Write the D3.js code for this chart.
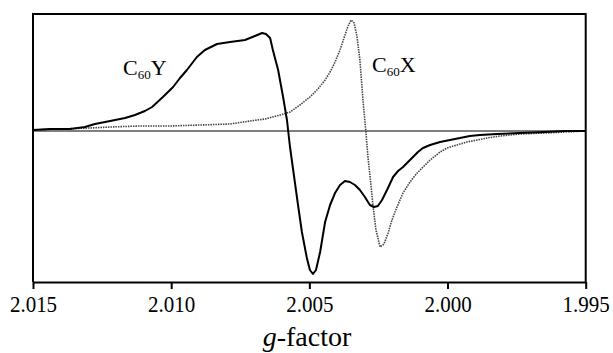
<!DOCTYPE html>
<html>
<head>
<meta charset="utf-8">
<script src="https://cdn.jsdelivr.net/npm/d3@7"></script>
<style>
  body { margin: 0; background: #fff; }
  svg text { font-family: "Liberation Serif", "Times New Roman", Times, serif; fill: #000; }
</style>
</head>
<body>
<svg id="chart" width="613" height="353"></svg>
<script>
// g-factor values and signal (arb. units)
var gY = [2.01500, 2.01439, 2.01366, 2.01312, 2.01276, 2.01221, 2.01167, 2.01131, 2.01095, 2.01069,
          2.01030, 2.00993, 2.00968, 2.00943, 2.00907, 2.00878, 2.00834, 2.00787, 2.00733, 2.00697,
          2.00671, 2.00657, 2.00642, 2.00632, 2.00613, 2.00595, 2.00581, 2.00570, 2.00556, 2.00541,
          2.00527, 2.00509, 2.00498, 2.00487, 2.00476, 2.00461, 2.00443, 2.00425, 2.00407, 2.00389,
          2.00371, 2.00353, 2.00335, 2.00317, 2.00299, 2.00281, 2.00266, 2.00252, 2.00237, 2.00219,
          2.00197, 2.00179, 2.00161, 2.00143, 2.00125, 2.00107, 2.00089, 2.00063, 2.00027, 1.99991,
          1.99955, 1.99919, 1.99883, 1.99821, 1.99738, 1.99647, 1.99575, 1.99500];
var sY = [1, 2, 2, 4, 7, 10, 13, 16, 20, 24,
          34, 44, 53, 61, 74, 81, 87, 89, 91, 95,
          98, 97, 93, 81, 61, 34, 11, -16, -44, -74,
          -101, -127, -139, -143, -139, -121, -91, -74, -62, -54,
          -50, -51, -54, -59, -66, -74, -76, -75, -69, -59,
          -46, -40, -36, -31, -26, -21, -17, -14, -11, -9,
          -7, -5, -4, -3, -2, -1, 0, 0];

var gX = [2.01500, 2.01402, 2.01294, 2.01221, 2.01113, 2.01004, 2.00896, 2.00787, 2.00715, 2.00660,
          2.00606, 2.00570, 2.00534, 2.00498, 2.00469, 2.00443, 2.00425, 2.00407, 2.00389, 2.00371,
          2.00360, 2.00349, 2.00338, 2.00328, 2.00317, 2.00306, 2.00295, 2.00288, 2.00277, 2.00270,
          2.00259, 2.00244, 2.00230, 2.00215, 2.00201, 2.00183, 2.00161, 2.00136, 2.00110, 2.00063,
          2.00027, 2.00002, 1.99966, 1.99930, 1.99893, 1.99857, 1.99810, 1.99738, 1.99647, 1.99575,
          1.99500];
var sX = [1, 2, 3, 4, 5, 5, 6, 7, 10, 12,
          16, 19, 26, 34, 42, 51, 59, 69, 81, 96,
          105, 111, 108, 95, 71, 31, -2, -26, -54, -74,
          -99, -116, -113, -102, -89, -76, -62, -51, -42, -29,
          -21, -17, -14, -11, -9, -7, -5, -3, -2, -1,
          0];

var gTicks = [2.015, 2.010, 2.005, 2.000, 1.995];

var svg = d3.select("#chart");
var mLeft = 33, mRight = 585.7, mTop = 14, mBottom = 282;

var x = d3.scaleLinear().domain([2.015, 1.995]).range([mLeft, mRight]);
var y = d3.scaleLinear().domain([-151, 117]).range([mBottom, mTop]);

var line = d3.line()
    .x(function(d){ return x(d[0]); })
    .y(function(d){ return y(d[1]); });

// zero line
svg.append("line")
    .attr("x1", mLeft).attr("x2", mRight)
    .attr("y1", y(0)).attr("y2", y(0))
    .attr("stroke", "#000").attr("stroke-width", 1);

// C60X : dotted grey trace
svg.append("path")
    .datum(d3.zip(gX, sX))
    .attr("d", line)
    .attr("fill", "none")
    .attr("stroke", "#444")
    .attr("stroke-width", 1.6)
    .attr("stroke-dasharray", "1.5,1");

// C60Y : solid black trace
svg.append("path")
    .datum(d3.zip(gY, sY))
    .attr("d", line)
    .attr("fill", "none")
    .attr("stroke", "#000")
    .attr("stroke-width", 2)
    .attr("stroke-linejoin", "round");

// frame
svg.append("path")
    .attr("d", "M" + mLeft + "," + mBottom + "V" + mTop + "H" + mRight + "V" + mBottom)
    .attr("fill", "none").attr("stroke", "#000").attr("stroke-width", 2);

var xAxis = svg.append("g")
    .attr("transform", "translate(0," + mBottom + ")")
    .attr("font-family", null)
    .call(d3.axisBottom(x).tickValues(gTicks).tickFormat(d3.format(".3f")).tickSize(7).tickSizeOuter(0));
xAxis.attr("font-family", null).attr("font-size", null);
xAxis.select(".domain").attr("stroke-width", 2);
xAxis.selectAll(".tick line").attr("stroke-width", 2);
// glyphs in the picture are a little taller than wide, so stretch them vertically
xAxis.selectAll(".tick text")
    .style("font-size", "21px")
    .attr("y", 0)
    .attr("dy", 0)
    .attr("transform", "translate(0,29.5) scale(1,1.12)");

svg.append("text")
    .attr("x", 307).attr("y", 346)
    .attr("text-anchor", "middle")
    .style("font-size", "28px")
    .call(function(t){
        t.append("tspan").style("font-style", "italic").text("g");
        t.append("tspan").text("-factor");
    });

function label(xp, yp, letter) {
    var t = svg.append("text").attr("x", xp).attr("y", yp).style("font-size", "22px");
    t.append("tspan").text("C");
    t.append("tspan").style("font-size", "13px").attr("dy", 4).text("60");
    t.append("tspan").attr("dy", -4).text(letter);
}
label(123, 75, "Y");
label(372, 72, "X");
</script>
</body>
</html>
